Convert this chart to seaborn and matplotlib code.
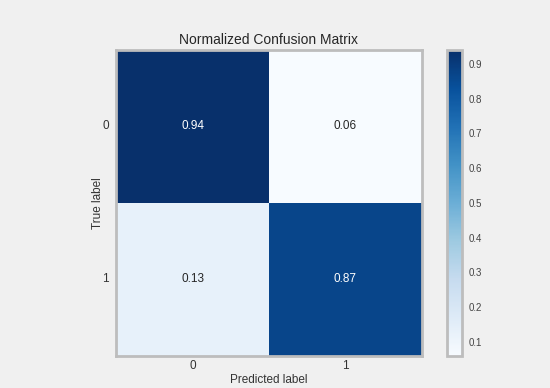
import numpy as np
import pandas as pd
import matplotlib
matplotlib.use("Agg")
import matplotlib.pyplot as plt
import seaborn as sns

# data
class_labels = ["0", "1"]
row_0 = [0.94, 0.06]
row_1 = [0.13, 0.87]
cbar_ticks = [0.1, 0.2, 0.3, 0.4, 0.5, 0.6, 0.7, 0.8, 0.9]

cm = pd.DataFrame([row_0, row_1], index=class_labels, columns=class_labels)

sns.set_style("white")
plt.rcParams["font.family"] = ["Liberation Sans", "DejaVu Sans"]

bg = "#f0f0f0"
edge = "#bdbdbd"

fig = plt.figure(figsize=(5.5, 3.88), dpi=100, facecolor=bg)
ax = fig.add_axes([0.211, 0.0825, 0.556, 0.789])
cax = fig.add_axes([0.813, 0.0825, 0.027, 0.789])

sns.heatmap(cm, ax=ax, cbar_ax=cax, cmap="Blues", vmin=0.06, vmax=0.94,
            annot=True, fmt=".2f", annot_kws={"fontsize": 8.5},
            cbar_kws={"ticks": cbar_ticks})

ax.set_title("Normalized Confusion Matrix", fontsize=10, color="#262626", pad=4)
ax.set_xlabel("Predicted label", fontsize=8.5, color="#333333", labelpad=1)
ax.set_ylabel("True label", fontsize=8.5, color="#333333", labelpad=-1)
ax.tick_params(axis="x", length=0, labelsize=8.5, colors="#333333", pad=3)
ax.tick_params(axis="y", length=0, labelsize=8.5, colors="#333333", pad=5)
ax.set_yticklabels(class_labels, rotation=0)
for s in ax.spines.values():
    s.set_visible(True)
    s.set_color(edge)
    s.set_linewidth(2)

cbar = ax.collections[0].colorbar
cbar.ax.tick_params(length=0, labelsize=7, colors="#444444", pad=5)
cbar.ax.set_yticklabels([f"{t:.1f}" for t in cbar_ticks])
cbar.outline.set_visible(True)
cbar.outline.set_edgecolor(edge)
cbar.outline.set_linewidth(2)

fig.savefig("out.png", dpi=100, facecolor=bg)
